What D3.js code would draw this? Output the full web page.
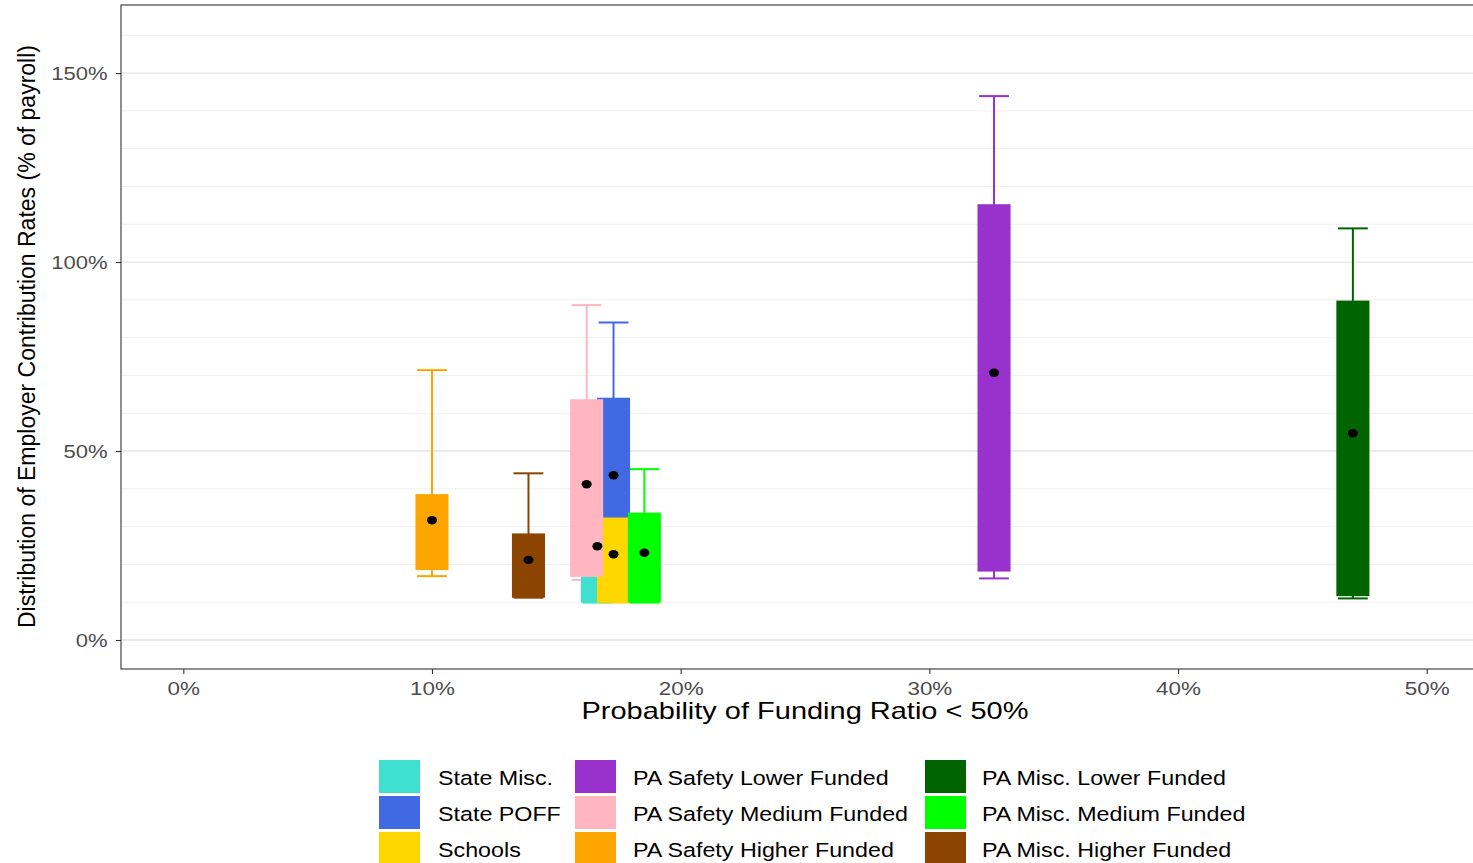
<!DOCTYPE html>
<html>
<head>
<meta charset="utf-8">
<script src="https://cdn.jsdelivr.net/npm/d3@7"></script>
<style>
  html, body { margin: 0; padding: 0; background: #ffffff; }
  svg { display: block; font-family: "Liberation Sans", Arial, Helvetica, sans-serif; }
</style>
</head>
<body>
<svg id="chart" width="1473" height="863"></svg>
<script>
// ---- Data ----
const groups = ["State Misc.", "State POFF", "Schools",
  "PA Safety Lower Funded", "PA Safety Medium Funded", "PA Safety Higher Funded",
  "PA Misc. Lower Funded", "PA Misc. Medium Funded", "PA Misc. Higher Funded"];
const groupColors = ["#40E0D0", "#4169E1", "#FFD700", "#9932CC", "#FFB6C1", "#FFA500", "#006400", "#00FF00", "#8B4500"];
const probFR50 = [16.65, 17.3, 17.3, 32.6, 16.22, 10.0, 47.03, 18.54, 13.88];   // x, % probability
const whiskerMin = [9.9, 14.0, 9.9, 16.3, 15.9, 16.9, 11.0, 9.9, 11.2];
const boxLow = [9.9, 22.0, 9.9, 18.1, 16.7, 18.5, 11.6, 9.9, 11.2];
const boxHigh = [30.0, 64.1, 32.4, 115.3, 63.7, 38.6, 89.8, 33.7, 28.2];
const whiskerMax = [50.0, 84.0, 45.0, 143.9, 88.6, 71.4, 108.9, 45.2, 44.1];
const meanRate = [24.8, 43.6, 22.7, 70.7, 41.2, 31.7, 54.7, 23.1, 21.2];
const xTicks = [0, 10, 20, 30, 40, 50];
const yTicks = [0, 50, 100, 150];
const yGrid = [0, 10, 20, 30, 40, 50, 60, 70, 80, 90, 100, 110, 120, 130, 140, 150, 160];

const rows = groups.map((g, i) => ({
  g, color: groupColors[i], x: probFR50[i], lo: whiskerMin[i], q1: boxLow[i],
  q3: boxHigh[i], hi: whiskerMax[i], mean: meanRate[i]
}));

// ---- Layout ----
const svg = d3.select("#chart");
const panel = { left: 121, top: 5, right: 1473, bottom: 669 };
const x = d3.scaleLinear().domain([-2.505, 51.86]).range([panel.left, panel.right]);
const y = d3.scaleLinear().domain([-7.67, 168]).range([panel.bottom, panel.top]);
const boxW = 1.33, capW = 1.2;

function stretch(sel, sx) {
  sel.each(function () {
    const len = this.getComputedTextLength();
    d3.select(this).attr("textLength", len * sx).attr("lengthAdjust", "spacingAndGlyphs");
  });
}

// background
svg.append("rect").attr("x", 0).attr("y", 0).attr("width", 1473).attr("height", 863).attr("fill", "#fff");

// gridlines
svg.append("g").selectAll("line").data(yGrid).join("line")
  .attr("x1", panel.left).attr("x2", panel.right)
  .attr("y1", d => y(d)).attr("y2", d => y(d))
  .attr("stroke", d => d % 50 === 0 ? "#E5E5E5" : "#EEEEEE")
  .attr("stroke-width", d => d % 50 === 0 ? 1.3 : 0.9);

// whiskers (drawn under boxes)
const wg = svg.append("g");
wg.selectAll("line.stem").data(rows).join("line").attr("class", "stem")
  .attr("x1", d => x(d.x)).attr("x2", d => x(d.x))
  .attr("y1", d => y(d.lo)).attr("y2", d => y(d.hi))
  .attr("stroke", d => d.color).attr("stroke-width", 2);
wg.selectAll("line.capHi").data(rows).join("line").attr("class", "capHi")
  .attr("x1", d => x(d.x - capW / 2)).attr("x2", d => x(d.x + capW / 2))
  .attr("y1", d => y(d.hi)).attr("y2", d => y(d.hi))
  .attr("stroke", d => d.color).attr("stroke-width", 2);
wg.selectAll("line.capLo").data(rows).join("line").attr("class", "capLo")
  .attr("x1", d => x(d.x - capW / 2)).attr("x2", d => x(d.x + capW / 2))
  .attr("y1", d => y(d.lo)).attr("y2", d => y(d.lo))
  .attr("stroke", d => d.color).attr("stroke-width", 2);

// boxes
svg.append("g").selectAll("rect").data(rows).join("rect")
  .attr("x", d => x(d.x - boxW / 2))
  .attr("width", d => x(d.x + boxW / 2) - x(d.x - boxW / 2))
  .attr("y", d => y(d.q3))
  .attr("height", d => y(d.q1) - y(d.q3))
  .attr("fill", d => d.color);

// mean points
svg.append("g").selectAll("ellipse").data(rows).join("ellipse")
  .attr("cx", d => x(d.x)).attr("cy", d => y(d.mean))
  .attr("rx", 5).attr("ry", 4.2).attr("fill", "#000");

// panel border
svg.append("rect")
  .attr("x", panel.left).attr("y", panel.top)
  .attr("width", panel.right - panel.left + 2).attr("height", panel.bottom - panel.top)
  .attr("fill", "none").attr("stroke", "#333333").attr("stroke-width", 1.1);

// axes
const yAxis = svg.append("g").attr("transform", `translate(${panel.left},0)`)
  .call(d3.axisLeft(y).tickValues(yTicks).tickFormat(d => d + "%").tickSize(5).tickPadding(8.5));
const xAxis = svg.append("g").attr("transform", `translate(0,${panel.bottom})`)
  .call(d3.axisBottom(x).tickValues(xTicks).tickFormat(d => d + "%").tickSize(5).tickPadding(8));
[yAxis, xAxis].forEach(ax => {
  ax.select(".domain").remove();
  ax.selectAll(".tick line").attr("stroke", "#333333").attr("stroke-width", 1.1);
  ax.selectAll(".tick text").attr("fill", "#4D4D4D").attr("font-size", 19)
    .attr("font-family", "'Liberation Sans', Arial, sans-serif");
});
stretch(yAxis.selectAll(".tick text"), 1.16);
stretch(xAxis.selectAll(".tick text"), 1.18);

// axis titles
svg.append("text").attr("x", 805).attr("y", 719).attr("text-anchor", "middle")
  .attr("font-size", 24).attr("fill", "#000")
  .attr("textLength", 447).attr("lengthAdjust", "spacingAndGlyphs")
  .text("Probability of Funding Ratio < 50%");
svg.append("text").attr("transform", "translate(35,336.5) rotate(-90)")
  .attr("text-anchor", "middle").attr("font-size", 23.5).attr("fill", "#000")
  .attr("textLength", 583).attr("lengthAdjust", "spacingAndGlyphs")
  .text("Distribution of Employer Contribution Rates (% of payroll)");

// legend
const legCols = [379, 575, 925];
const legLabelX = [438, 633, 982];
const legRowTop = [760, 796, 832];
const lg = svg.append("g");
rows.forEach((d, i) => {
  const c = Math.floor(i / 3), r = i % 3;
  lg.append("rect").attr("x", legCols[c]).attr("y", legRowTop[r])
    .attr("width", 41).attr("height", 33).attr("fill", d.color);
  lg.append("text").attr("x", legLabelX[c]).attr("y", legRowTop[r] + 25)
    .attr("font-size", 20.5).attr("fill", "#000").text(d.g);
});
stretch(lg.selectAll("text"), 1.135);
</script>
</body>
</html>
